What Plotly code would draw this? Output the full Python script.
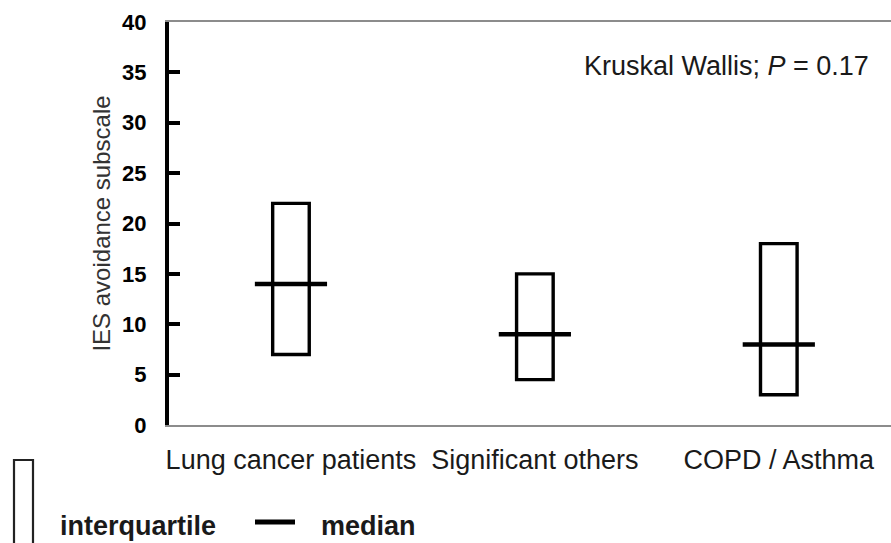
import plotly.graph_objects as go

# ---- data ----
groups = ["Lung cancer patients", "Significant others", "COPD / Asthma"]
q1_values = [7, 4.5, 3]
median_values = [14, 9, 8]
q3_values = [22, 15, 18]
y_ticks = [0, 5, 10, 15, 20, 25, 30, 35, 40]
stat_text = "Kruskal Wallis; <i>P</i> = 0.17"
y_title = "IES avoidance subscale"

W, H = 891, 543
L, R, T, B = 169, 0, 22, 118
pw, ph = W - L - R, H - T - B

def px(x):
    return (x - L) / pw

def py(y):
    return (H - B - y) / ph

FONT = "Liberation Sans, Arial, sans-serif"
xpos = list(range(len(groups)))
box_w = 0.15
med_half = 0.148

fig = go.Figure()
fig.add_trace(go.Bar(
    x=xpos,
    y=[q3 - q1 for q1, q3 in zip(q1_values, q3_values)],
    base=q1_values,
    width=box_w,
    marker=dict(color="white", line=dict(color="black", width=3.4)),
    showlegend=False,
    hoverinfo="skip",
))
for xi, m in zip(xpos, median_values):
    fig.add_trace(go.Scatter(
        x=[xi - med_half, xi + med_half], y=[m, m], mode="lines",
        line=dict(color="black", width=4.5), showlegend=False, hoverinfo="skip",
    ))

fig.update_layout(
    width=W, height=H,
    margin=dict(l=L, r=R, t=T, b=B),
    plot_bgcolor="white", paper_bgcolor="white",
    font=dict(family=FONT, color="#1a1a1a"),
    xaxis=dict(
        range=[-0.5, 2.46], tickvals=xpos, ticktext=groups,
        showgrid=False, zeroline=False, ticks="",
        showline=True, mirror=True, linecolor="#8c8c8c", linewidth=2,
        tickfont=dict(size=27, color="#1a1a1a", family=FONT),
        ticklabelstandoff=10,
    ),
    yaxis=dict(
        range=[0, 40], tickvals=y_ticks, ticktext=[str(v) for v in y_ticks],
        showgrid=False, zeroline=False,
        showline=True, linecolor="black", linewidth=4,
        ticks="inside", ticklen=11, tickwidth=4, tickcolor="black",
        tickfont=dict(size=22, color="black", family=FONT, weight="bold"),
        ticklabelstandoff=14,
        title=dict(text=y_title, font=dict(size=24, color="#333333", family=FONT), standoff=6),
    ),
)

fig.add_annotation(
    x=px(871), y=py(66), xref="paper", yref="paper", xanchor="right", yanchor="middle",
    text=stat_text, showarrow=False, font=dict(size=27, color="#1a1a1a", family=FONT),
)

# legend key
fig.add_shape(type="rect", xref="paper", yref="paper",
              x0=px(14), x1=px(33), y0=py(460), y1=py(548),
              line=dict(color="#222222", width=2.2), fillcolor="white")
fig.add_annotation(x=px(58), y=py(526), xref="paper", yref="paper", xanchor="left", yanchor="middle",
                   text="<b>interquartile</b>", showarrow=False,
                   font=dict(size=27, color="#1a1a1a", family=FONT))
fig.add_shape(type="line", xref="paper", yref="paper",
              x0=px(255), x1=px(295), y0=py(522), y1=py(522),
              line=dict(color="black", width=5))
fig.add_annotation(x=px(319), y=py(526), xref="paper", yref="paper", xanchor="left", yanchor="middle",
                   text="<b>median</b>", showarrow=False,
                   font=dict(size=27, color="#1a1a1a", family=FONT))

fig.write_html("out.html", config={"displayModeBar": False},
               post_script="document.body.style.margin='0';document.body.style.padding='0';")
